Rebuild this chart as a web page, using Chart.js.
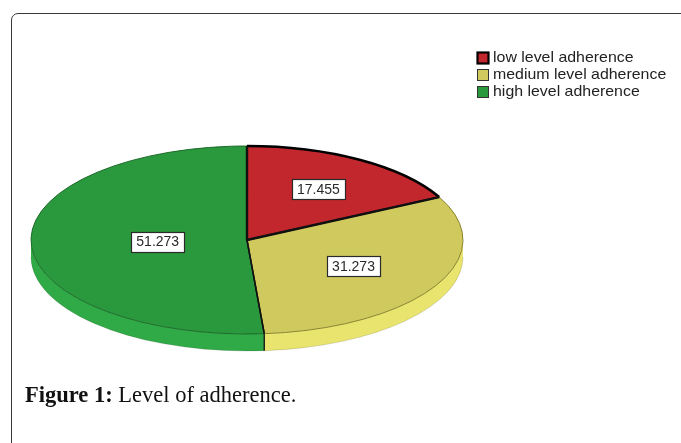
<!DOCTYPE html>
<html>
<head>
<meta charset="utf-8">
<script src="https://cdn.jsdelivr.net/npm/chart.js@4.4.1/dist/chart.umd.min.js"></script>
<style>
  html, body { margin: 0; padding: 0; background: #ffffff; }
  body { width: 681px; height: 443px; position: relative; overflow: hidden; }
  #frame {
    position: absolute; left: 11px; top: 13px; width: 720px; height: 520px;
    border: 1.6px solid #3a3a3a; border-radius: 7px; box-sizing: border-box;
  }
  #chart { position: absolute; left: 0; top: 0; }
  #caption {
    position: absolute; left: 25px; top: 382px;
    font-family: "Liberation Serif", "DejaVu Serif", serif; font-size: 22.5px; color: #111;
    white-space: nowrap;
  }
  #caption b { font-weight: bold; }
</style>
</head>
<body>
<div id="frame"></div>
<canvas id="chart" width="681" height="443"></canvas>
<div id="caption"><b>Figure 1:</b> Level of adherence.</div>
<script>
// Adherence levels and their percentages
const categories = ["low level adherence", "medium level adherence", "high level adherence"];
const percentages = [17.455, 31.273, 51.273];

// Slice colours: top face, side face, outer rim line
const topColors  = ["#c1272d", "#cfc95e", "#2a983c"];
const sideColors = ["#a81f25", "#e8e46e", "#30aa46"];
const rimColors  = ["#000000", "#8a8430", "#1d6a2a"];

const TILT = 94 / 216;   // vertical squash of the pie into an ellipse
const DEPTH = 17;        // thickness of the pie side

function ellipsePath(ctx, cx, cy, rx, ry, a0, a1, ccw) {
  ctx.ellipse(cx, cy, rx, ry, 0, a0, a1, !!ccw);
}

function arcGeom(arc) {
  return arc.getProps(["x", "y", "startAngle", "endAngle", "outerRadius"], true);
}

const tiltedPie = {
  id: "tiltedPie",
  beforeDatasetsDraw(chart) {
    const ctx = chart.ctx;
    const arcs = chart.getDatasetMeta(0).data;
    // side band for the visible (front) part of each slice
    arcs.forEach((arc, i) => {
      const { x, y, startAngle, endAngle, outerRadius } = arcGeom(arc);
      const rx = outerRadius, ry = outerRadius * TILT;
      const a = Math.max(startAngle, 0), b = Math.min(endAngle, Math.PI);
      if (b <= a) return;
      ctx.save();
      ctx.beginPath();
      ellipsePath(ctx, x, y, rx, ry, a, b);
      ellipsePath(ctx, x, y + DEPTH, rx, ry, b, a, true);
      ctx.closePath();
      ctx.fillStyle = sideColors[i];
      ctx.fill();
      // bottom rim of the side
      ctx.beginPath();
      ellipsePath(ctx, x, y + DEPTH, rx, ry, a, b);
      ctx.strokeStyle = "rgba(0,0,0,0.12)";
      ctx.lineWidth = 1;
      ctx.stroke();
      // seam where two slices meet on the side
      if (startAngle > 0 && startAngle < Math.PI) {
        const sx = x + rx * Math.cos(startAngle), sy = y + ry * Math.sin(startAngle);
        ctx.beginPath();
        ctx.moveTo(sx, sy);
        ctx.lineTo(sx, sy + DEPTH);
        ctx.strokeStyle = "#1a1a1a";
        ctx.lineWidth = 1.4;
        ctx.stroke();
      }
      ctx.restore();
    });
    // squash the library-drawn top face into an ellipse
    const cy = arcs[0].y;
    ctx.save();
    ctx.translate(0, cy);
    ctx.scale(1, TILT);
    ctx.translate(0, -cy);
  },
  afterDatasetsDraw(chart) {
    const ctx = chart.ctx;
    ctx.restore();
    const arcs = chart.getDatasetMeta(0).data;
    const values = chart.data.datasets[0].data;

    // outer rim of each slice
    arcs.forEach((arc, i) => {
      const { x, y, startAngle, endAngle, outerRadius } = arcGeom(arc);
      ctx.save();
      ctx.beginPath();
      ellipsePath(ctx, x, y, outerRadius, outerRadius * TILT, startAngle, endAngle);
      ctx.strokeStyle = rimColors[i];
      ctx.lineWidth = i === 0 ? 2.6 : 1;
      ctx.stroke();
      ctx.restore();
    });
    // radial edges
    arcs.forEach((arc, i) => {
      const { x, y, startAngle, endAngle, outerRadius } = arcGeom(arc);
      const rx = outerRadius, ry = outerRadius * TILT;
      ctx.save();
      ctx.beginPath();
      ctx.moveTo(x + rx * Math.cos(startAngle), y + ry * Math.sin(startAngle));
      ctx.lineTo(x, y);
      ctx.lineTo(x + rx * Math.cos(endAngle), y + ry * Math.sin(endAngle));
      ctx.strokeStyle = "#111";
      ctx.lineWidth = i === 0 ? 2.4 : 1.5;
      ctx.lineJoin = "round";
      ctx.stroke();
      ctx.restore();
    });

    // value boxes at each slice's centroid
    ctx.save();
    ctx.font = "14px 'Liberation Sans', Arial, sans-serif";
    ctx.textAlign = "center";
    ctx.textBaseline = "middle";
    arcs.forEach((arc, i) => {
      const { x, y, startAngle, endAngle, outerRadius } = arcGeom(arc);
      const theta = endAngle - startAngle;
      const mid = (startAngle + endAngle) / 2;
      const dist = 4 * outerRadius * Math.sin(theta / 2) / (3 * theta);
      const lx = x + dist * Math.cos(mid);
      const ly = y + dist * TILT * Math.sin(mid);
      const txt = values[i].toFixed(3);
      const w = ctx.measureText(txt).width + 10, h = 20;
      const bx = Math.round(lx - w / 2) + 0.5, by = Math.round(ly - h / 2) + 0.5;
      ctx.fillStyle = "#ffffff";
      ctx.fillRect(bx, by, Math.round(w), h);
      ctx.strokeStyle = "#2a2a2a";
      ctx.lineWidth = 1.2;
      ctx.strokeRect(bx, by, Math.round(w), h);
      ctx.fillStyle = "#2a2a2a";
      ctx.fillText(txt, lx, ly + 1);
    });
    ctx.restore();
  },
  afterDraw(chart) {
    // legend in the upper right
    const ctx = chart.ctx;
    const labels = chart.data.labels;
    ctx.save();
    ctx.font = "15px 'Liberation Sans', Arial, sans-serif";
    ctx.textBaseline = "middle";
    labels.forEach((lab, i) => {
      const top = 52 + i * 17;
      ctx.fillStyle = topColors[i];
      ctx.fillRect(477, top, 12, 12);
      ctx.strokeStyle = i === 0 ? "#000" : "#333";
      ctx.lineWidth = i === 0 ? 2.2 : 1;
      ctx.strokeRect(477.5, top + 0.5, 11, 11);
      ctx.save();
      ctx.translate(493, top + 6);
      ctx.scale(1.06, 1);
      ctx.fillStyle = "#222";
      ctx.fillText(lab, 0, 0);
      ctx.restore();
    });
    ctx.restore();
  }
};

new Chart(document.getElementById("chart"), {
  type: "pie",
  data: {
    labels: categories,
    datasets: [{
      data: percentages,
      backgroundColor: topColors,
      borderWidth: 0,
      radius: 216,
      clip: false
    }]
  },
  options: {
    responsive: false,
    animation: false,
    events: [],
    layout: { padding: { left: 0, right: 187, top: 37, bottom: 0 } },
    plugins: {
      legend: { display: false },
      tooltip: { enabled: false }
    }
  },
  plugins: [tiltedPie]
});
</script>
</body>
</html>
